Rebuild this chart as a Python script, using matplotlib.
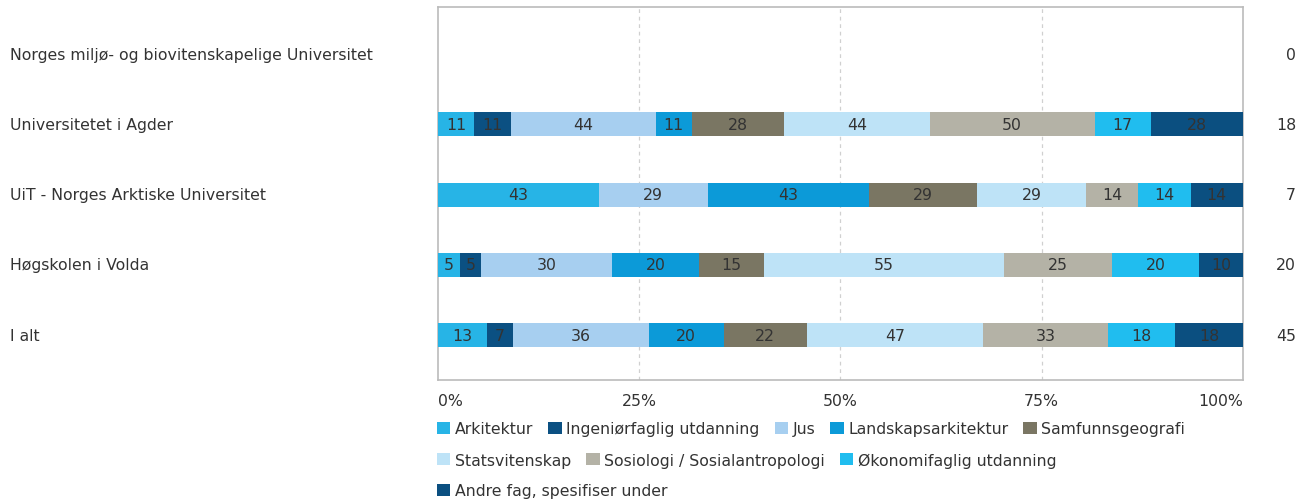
import matplotlib.pyplot as plt
import numpy as np

institutions = ["Norges miljø- og biovitenskapelige Universitet",
                "Universitetet i Agder",
                "UiT - Norges Arktiske Universitet",
                "Høgskolen i Volda",
                "I alt"]
n_resp = [0, 18, 7, 20, 45]

subjects = ["Arkitektur", "Ingeniørfaglig utdanning", "Jus", "Landskapsarkitektur",
            "Samfunnsgeografi", "Statsvitenskap", "Sosiologi / Sosialantropologi",
            "Økonomifaglig utdanning", "Andre fag, spesifiser under"]
colors = ["#27b4e6", "#0b5082", "#a7cff0", "#0c9ad8", "#7a7663",
          "#bee3f7", "#b4b2a6", "#20bdef", "#0b4f80"]

arkitektur = [0, 11, 43, 5, 13]
ingenior = [0, 11, 0, 5, 7]
jus = [0, 44, 29, 30, 36]
landskap = [0, 11, 43, 20, 20]
samfunnsgeo = [0, 28, 29, 15, 22]
statsvit = [0, 44, 29, 55, 47]
sosiologi = [0, 50, 14, 25, 33]
okonomi = [0, 17, 14, 20, 18]
andre = [0, 28, 14, 10, 18]

values = np.array([arkitektur, ingenior, jus, landskap, samfunnsgeo,
                   statsvit, sosiologi, okonomi, andre], dtype=float)
totals = values.sum(axis=0)
shares = np.divide(values, totals, out=np.zeros_like(values), where=totals > 0) * 100

txt = "#333333"
fs = 11.3
plt.rcParams['font.family'] = ['DejaVu Sans']

fig = plt.figure(figsize=(13.12, 5.02), dpi=100)
ax = fig.add_axes([0.3338, 0.241, 0.6136, 0.743])

y = np.arange(len(institutions))
left = np.zeros(len(institutions))
for i, subj in enumerate(subjects):
    ax.barh(y, shares[i], left=left, height=0.34, color=colors[i], label=subj, zorder=3)
    for j in range(len(institutions)):
        if values[i, j] > 0:
            ax.text(left[j] + shares[i, j] / 2, y[j], f"{int(values[i, j])}",
                    ha="center", va="center", fontsize=fs, color=txt, zorder=4)
    left += shares[i]

ax.set_xlim(0, 100)
ax.set_ylim(4.64, -0.67)
ax.set_yticks([])
ax.set_xticks([])
for g in [25, 50, 75]:
    ax.axvline(g, color="#d0d0d0", linestyle=(0, (3, 3)), linewidth=0.9, zorder=1)
for s in ax.spines.values():
    s.set_color("#bbbbbb")
    s.set_linewidth(1.2)

# tick labels
tr = ax.get_xaxis_transform()
for t, ha in zip([0, 25, 50, 75, 100], ["left", "center", "center", "center", "right"]):
    ax.text(t, -0.035, f"{t}%", transform=tr, ha=ha, va="top", fontsize=fs, color=txt)

# category labels and counts
for j, name in enumerate(institutions):
    ax.annotate(name, xy=(0, y[j]), xycoords=("figure fraction", "data"),
                xytext=(10, 0), textcoords="offset pixels",
                ha="left", va="center", fontsize=fs, color=txt)
    ax.annotate(str(n_resp[j]), xy=(1, y[j]), xycoords=("figure fraction", "data"),
                xytext=(-16, 0), textcoords="offset pixels",
                ha="right", va="center", fontsize=fs, color=txt)

# legend in three rows (flow layout)
handles, labels = ax.get_legend_handles_labels()
rows = [range(0, 5), range(5, 8), range(8, 9)]
row_y = [1 - 430 / 502, 1 - 461 / 502, 1 - 492 / 502]
for r, yy in zip(rows, row_y):
    leg = fig.legend([handles[k] for k in r], [labels[k] for k in r],
                     loc="center left", bbox_to_anchor=(437 / 1312, yy),
                     ncol=len(r), frameon=False, fontsize=fs,
                     handlelength=0.85, handleheight=0.85, handletextpad=0.3,
                     columnspacing=0.95, borderpad=0, borderaxespad=0)
    for t in leg.get_texts():
        t.set_color(txt)

fig.savefig("out.png", dpi=100)
